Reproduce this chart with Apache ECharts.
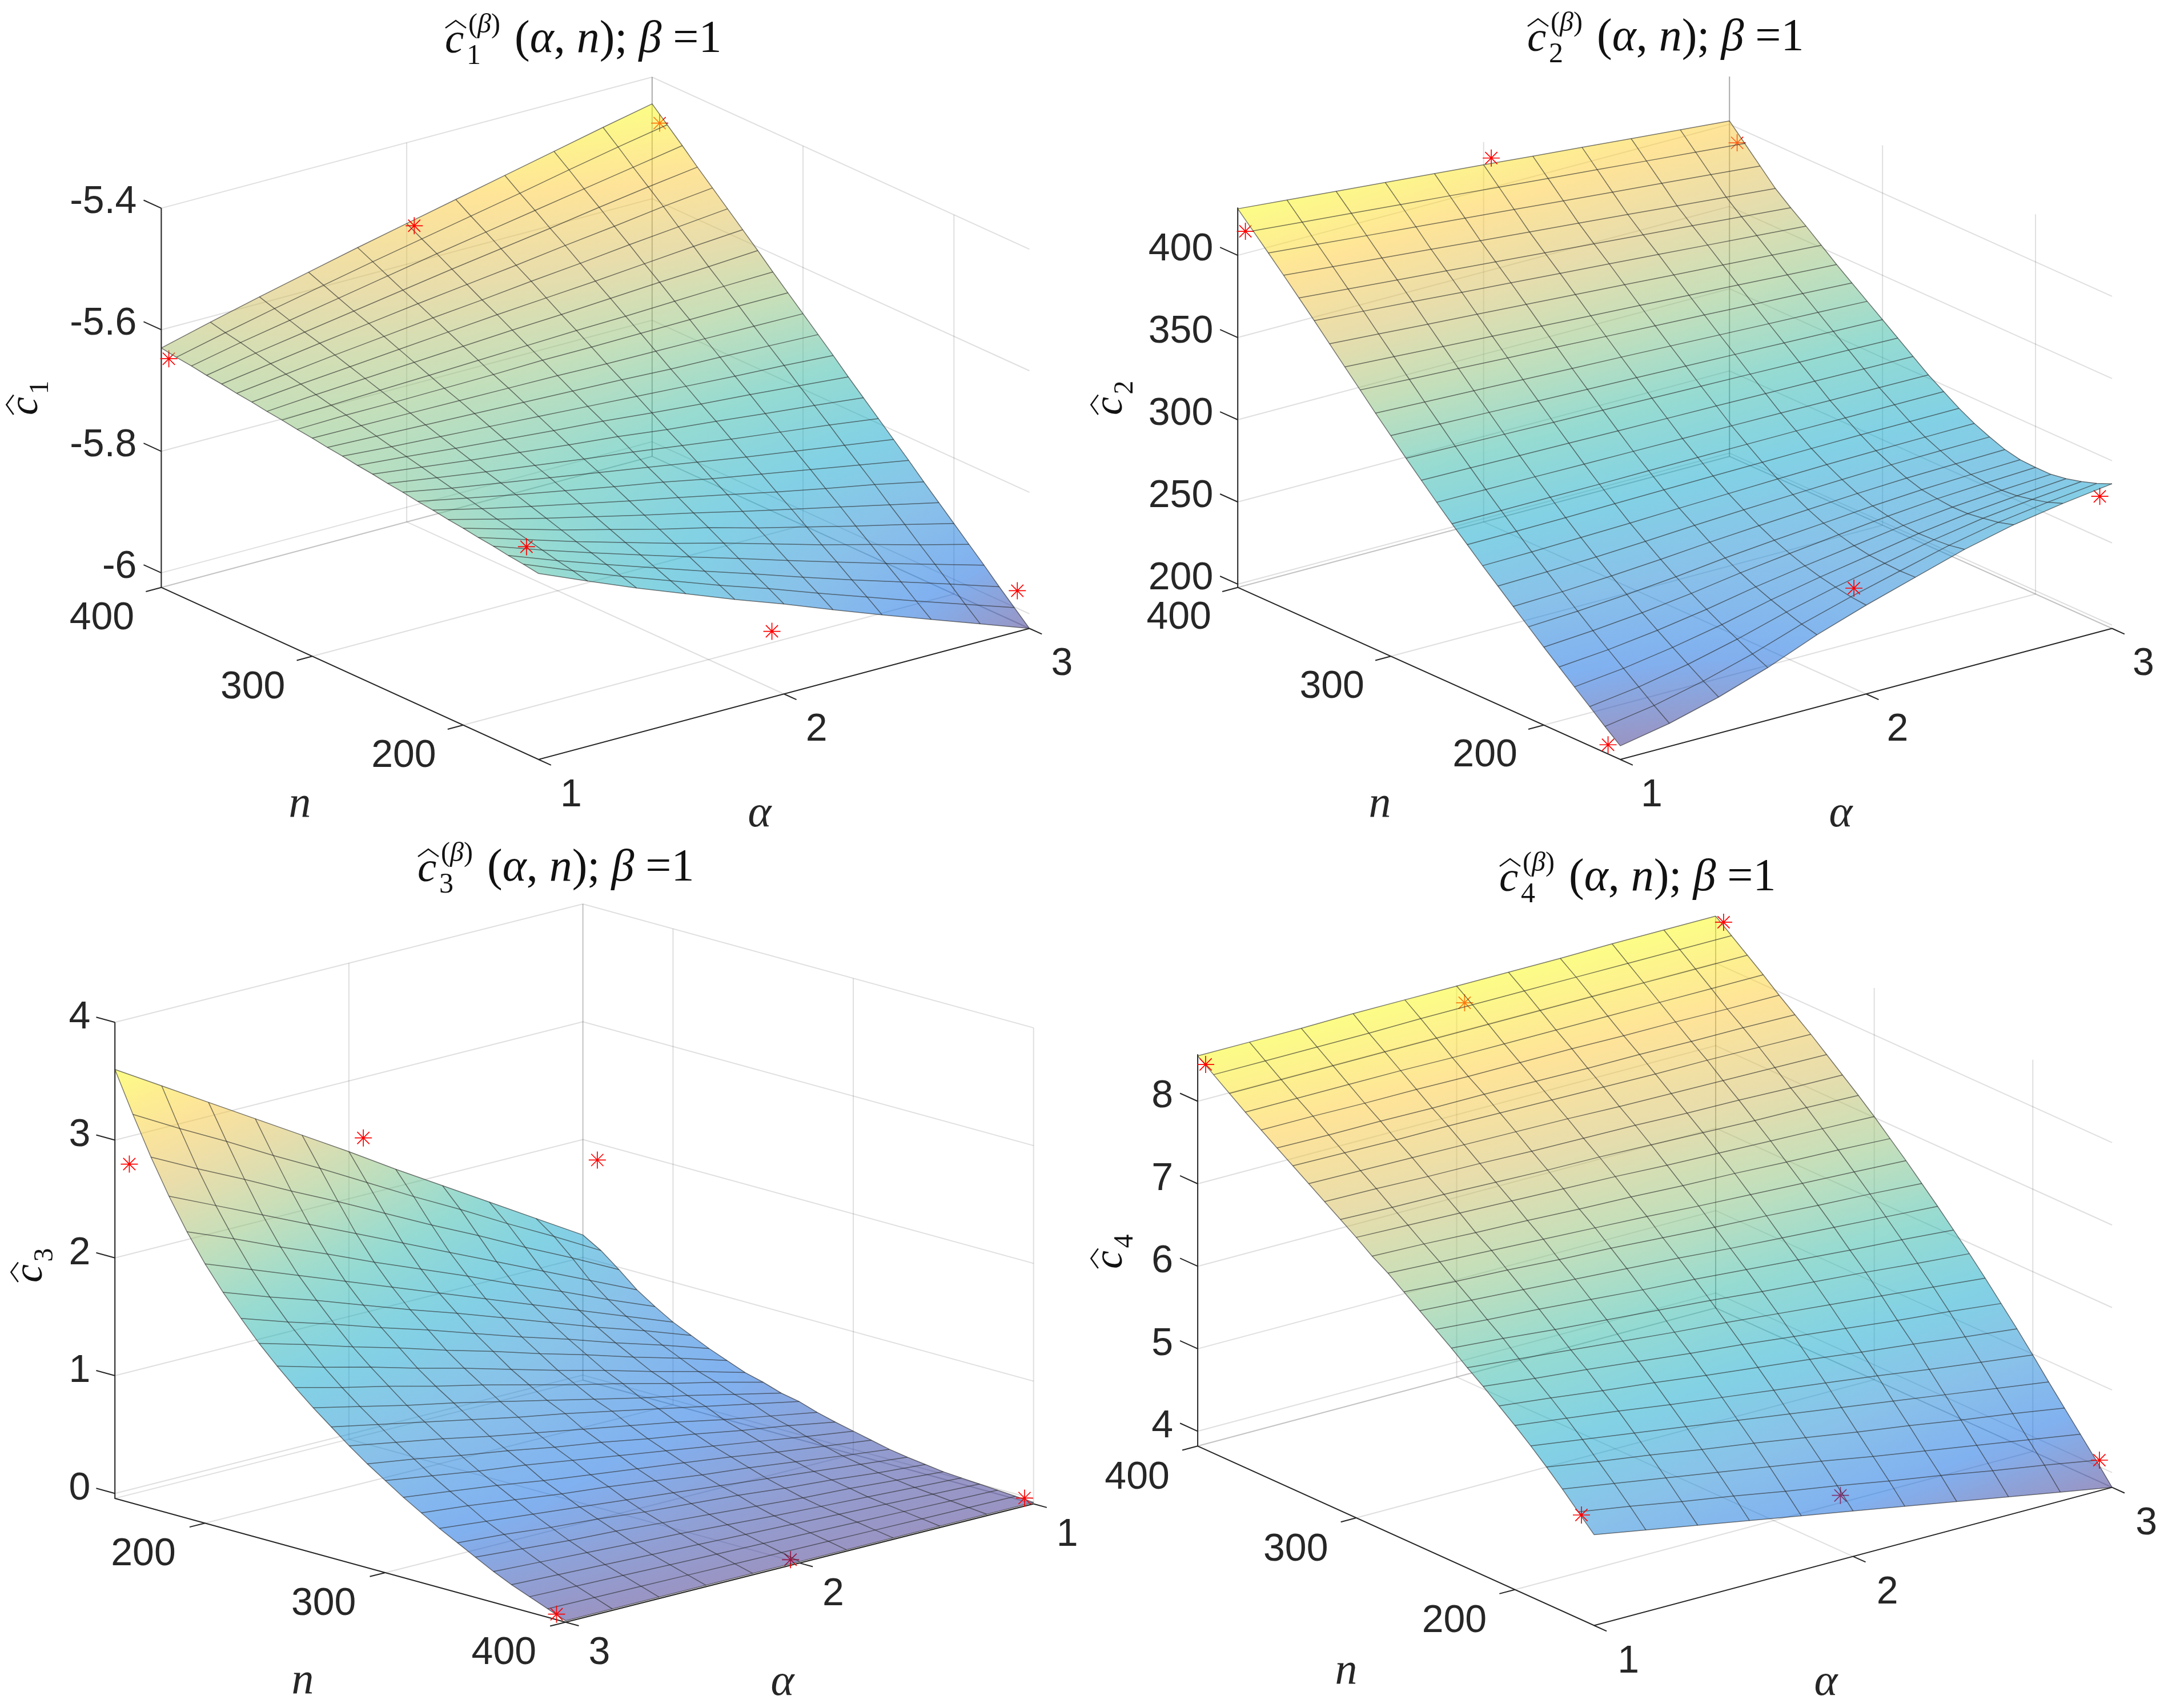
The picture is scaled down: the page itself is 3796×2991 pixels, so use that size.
<!DOCTYPE html>
<html>
<head>
<meta charset="utf-8">
<title>c hat surfaces</title>
<style>
  html, body { margin: 0; padding: 0; background: #fff; }
  #chart { width: 3796px; height: 2991px; }
</style>
<script src="https://cdn.jsdelivr.net/npm/echarts@6/dist/echarts.min.js"></script>
</head>
<body>
<div id="chart"></div>
<script>
var alphaVals = [1, 1.2, 1.4, 1.6, 1.8, 2, 2.2, 2.4, 2.6, 2.8, 3]
var nVals = [150, 160, 170, 180, 190, 200, 210, 220, 230, 240, 250, 260, 270, 280, 290, 300, 310, 320, 330, 340, 350, 360, 370, 380, 390, 400]
var alphaTicks = [1, 2, 3]
var nTicks = [200, 300, 400]
var c1Ticks = [-6, -5.8, -5.6, -5.4]
var c2Ticks = [200, 250, 300, 350, 400]
var c3Ticks = [0, 1, 2, 3, 4]
var c4Ticks = [4, 5, 6, 7, 8]

// one row per n, one column per alpha
var c1Surface = [
  [-5.718,-5.752,-5.785,-5.816,-5.847,-5.876,-5.907,-5.937,-5.966,-5.995,-6.024],
  [-5.714,-5.746,-5.777,-5.806,-5.835,-5.862,-5.891,-5.919,-5.947,-5.974,-6.001],
  [-5.711,-5.741,-5.769,-5.796,-5.823,-5.849,-5.876,-5.902,-5.927,-5.952,-5.978],
  [-5.707,-5.735,-5.761,-5.786,-5.811,-5.835,-5.860,-5.884,-5.908,-5.931,-5.954],
  [-5.704,-5.729,-5.754,-5.777,-5.800,-5.821,-5.844,-5.867,-5.888,-5.910,-5.931],
  [-5.700,-5.723,-5.746,-5.767,-5.788,-5.807,-5.829,-5.849,-5.869,-5.888,-5.908],
  [-5.697,-5.718,-5.738,-5.757,-5.776,-5.794,-5.813,-5.831,-5.849,-5.867,-5.885],
  [-5.693,-5.712,-5.730,-5.747,-5.764,-5.780,-5.797,-5.814,-5.830,-5.845,-5.862],
  [-5.690,-5.706,-5.722,-5.737,-5.752,-5.766,-5.782,-5.796,-5.810,-5.824,-5.838],
  [-5.686,-5.701,-5.714,-5.727,-5.740,-5.753,-5.766,-5.779,-5.791,-5.803,-5.815],
  [-5.683,-5.695,-5.707,-5.718,-5.729,-5.739,-5.750,-5.761,-5.771,-5.781,-5.792],
  [-5.679,-5.689,-5.699,-5.708,-5.717,-5.725,-5.735,-5.743,-5.752,-5.760,-5.769],
  [-5.676,-5.683,-5.691,-5.698,-5.705,-5.711,-5.719,-5.726,-5.732,-5.739,-5.746],
  [-5.672,-5.678,-5.683,-5.688,-5.693,-5.698,-5.703,-5.708,-5.713,-5.717,-5.722],
  [-5.669,-5.672,-5.675,-5.678,-5.681,-5.684,-5.687,-5.691,-5.693,-5.696,-5.699],
  [-5.665,-5.666,-5.667,-5.668,-5.669,-5.670,-5.672,-5.673,-5.674,-5.675,-5.676],
  [-5.662,-5.660,-5.660,-5.659,-5.658,-5.656,-5.656,-5.655,-5.654,-5.653,-5.653],
  [-5.658,-5.655,-5.652,-5.649,-5.646,-5.643,-5.640,-5.638,-5.635,-5.632,-5.630],
  [-5.655,-5.649,-5.644,-5.639,-5.634,-5.629,-5.625,-5.620,-5.615,-5.611,-5.606],
  [-5.651,-5.643,-5.636,-5.629,-5.622,-5.615,-5.609,-5.603,-5.596,-5.589,-5.583],
  [-5.648,-5.638,-5.628,-5.619,-5.610,-5.602,-5.593,-5.585,-5.576,-5.568,-5.560],
  [-5.644,-5.632,-5.620,-5.609,-5.598,-5.588,-5.578,-5.567,-5.557,-5.546,-5.537],
  [-5.641,-5.626,-5.613,-5.600,-5.587,-5.574,-5.562,-5.550,-5.537,-5.525,-5.514],
  [-5.637,-5.620,-5.605,-5.590,-5.575,-5.560,-5.546,-5.532,-5.518,-5.504,-5.490],
  [-5.634,-5.615,-5.597,-5.580,-5.563,-5.547,-5.531,-5.515,-5.498,-5.482,-5.467],
  [-5.630,-5.609,-5.589,-5.570,-5.551,-5.533,-5.515,-5.497,-5.479,-5.461,-5.444]
]
var c2Surface = [
  [206.3,212,220,230,242,252,261,270,277,282,286],
  [213.9,218.7,225.6,234.1,244.3,252.9,260.7,268.3,274.3,278.5,282],
  [221.8,225.8,231.6,238.9,247.4,254.6,261.1,267.5,272.6,276.1,279],
  [229.6,232.9,237.7,243.6,250.7,256.6,261.8,267.1,271.2,274.1,276.5],
  [237.5,240.1,243.9,248.7,254.4,259.2,263.5,267.8,271,273.3,275],
  [245.4,247.5,250.4,254.2,258.7,262.5,266,269.3,271.9,273.6,275],
  [253.6,255.1,257.3,260.1,263.6,266.4,268.8,271.3,273.2,274.5,275.5],
  [261.8,262.8,264.4,266.5,269,271.1,272.9,274.7,276.1,276.8,277.5],
  [270,270.7,271.8,273.3,275,276.5,277.8,279,280,280.6,281],
  [278.2,278.6,279.4,280.2,281.3,282.2,283.1,283.9,284.4,284.7,285],
  [286.8,287,287.3,287.8,288.3,288.7,289.1,289.5,289.8,289.9,290],
  [295.3,295.4,295.5,295.5,295.7,295.8,295.9,296,296,296,296],
  [304.2,304,303.8,303.5,303.3,303.1,302.9,302.7,302.4,302.2,302],
  [313.4,313,312.5,312.1,311.6,311.2,310.8,310.3,309.9,309.4,309],
  [322.6,321.9,321.3,320.6,320,319.3,318.6,318,317.3,316.7,316],
  [332.2,331.3,330.4,329.4,328.5,327.6,326.7,325.8,324.8,323.9,323],
  [341.7,340.5,339.4,338.2,337,335.9,334.7,333.5,332.3,331.2,330],
  [351.6,350.1,348.7,347.2,345.8,344.3,342.8,341.4,339.9,338.5,337],
  [361.4,359.7,357.9,356.2,354.4,352.7,351,349.2,347.5,345.7,344],
  [371.3,369.3,367.3,365.4,363.4,361.4,359.4,357.4,355.5,353.5,351.5],
  [381.2,379,376.8,374.5,372.3,370.1,367.9,365.7,363.4,361.2,359],
  [390.8,388.3,385.8,383.4,380.9,378.4,375.9,373.4,371,368.5,366],
  [400.4,397.7,395,392.3,389.6,386.9,384.3,381.6,378.9,376.2,373.5],
  [409.8,407.1,404.4,401.8,399.1,396.4,393.7,391,388.4,385.7,383],
  [419.1,416.4,413.8,411.1,408.5,405.8,403.1,400.5,397.8,395.2,392.5],
  [428.3,425.7,423,420.4,417.8,415.2,412.5,409.9,407.2,404.6,402]
]
var c3Surface = [
  [1.19,1.43,1.67,1.91,2.15,2.40,2.64,2.88,3.12,3.36,3.60],
  [1.10,1.32,1.53,1.75,1.96,2.18,2.40,2.61,2.83,3.04,3.26],
  [.98,1.18,1.37,1.57,1.76,1.96,2.16,2.35,2.55,2.74,2.94],
  [.85,1.03,1.21,1.39,1.57,1.75,1.93,2.11,2.29,2.47,2.65],
  [.75,.91,1.08,1.24,1.41,1.57,1.73,1.90,2.06,2.23,2.39],
  [.66,.81,.96,1.11,1.26,1.41,1.56,1.71,1.86,2.01,2.16],
  [.59,.73,.86,1.00,1.14,1.28,1.41,1.55,1.69,1.82,1.96],
  [.52,.65,.77,.90,1.02,1.15,1.28,1.40,1.53,1.65,1.78],
  [.46,.58,.69,.81,.92,1.04,1.15,1.27,1.38,1.50,1.61],
  [.40,.51,.61,.72,.82,.93,1.04,1.14,1.25,1.35,1.46],
  [.36,.46,.55,.65,.74,.84,.94,1.03,1.13,1.22,1.32],
  [.31,.40,.49,.57,.66,.75,.84,.93,1.01,1.10,1.19],
  [.28,.36,.44,.52,.60,.68,.75,.83,.91,.99,1.07],
  [.23,.30,.37,.45,.52,.59,.66,.73,.81,.88,.95],
  [.19,.26,.32,.39,.45,.52,.58,.65,.71,.78,.84],
  [.155,.21,.27,.33,.39,.45,.51,.57,.62,.68,.74],
  [.12,.17,.22,.28,.33,.38,.43,.48,.54,.59,.64],
  [.085,.13,.18,.23,.27,.32,.37,.41,.46,.51,.55],
  [.06,.10,.14,.18,.22,.26,.30,.34,.38,.42,.46],
  [.04,.07,.11,.14,.18,.21,.24,.28,.31,.35,.38],
  [.02,.05,.08,.10,.13,.16,.19,.22,.24,.27,.30],
  [.01,.03,.05,.07,.09,.115,.14,.16,.18,.20,.22],
  [0,.015,.03,.045,.06,.075,.09,.105,.12,.135,.15],
  [-.01,0,.01,.02,.03,.04,.05,.06,.07,.08,.09],
  [-.02,-.015,-.01,-.005,0,.005,.01,.015,.02,.025,.03],
  [-.03,-.03,-.03,-.03,-.03,-.03,-.03,-.03,-.03,-.03,-.03]
]
var c4Surface = [
  [4.92,4.81,4.70,4.59,4.48,4.37,4.26,4.15,4.04,3.93,3.82],
  [5.11,5.01,4.90,4.80,4.69,4.59,4.48,4.38,4.27,4.17,4.06],
  [5.30,5.20,5.10,5.00,4.90,4.80,4.69,4.59,4.49,4.39,4.29],
  [5.48,5.38,5.29,5.19,5.10,5.00,4.90,4.81,4.71,4.62,4.52],
  [5.65,5.56,5.47,5.38,5.29,5.20,5.11,5.02,4.93,4.84,4.75],
  [5.81,5.73,5.65,5.56,5.48,5.40,5.32,5.24,5.15,5.07,4.99],
  [5.96,5.89,5.81,5.74,5.66,5.59,5.52,5.44,5.37,5.29,5.22],
  [6.11,6.04,5.98,5.91,5.84,5.78,5.71,5.64,5.57,5.51,5.44],
  [6.25,6.19,6.13,6.07,6.01,5.96,5.90,5.84,5.78,5.72,5.66],
  [6.40,6.35,6.29,6.24,6.19,6.14,6.08,6.03,5.98,5.92,5.87],
  [6.54,6.49,6.45,6.40,6.35,6.31,6.26,6.21,6.16,6.12,6.07],
  [6.68,6.64,6.60,6.56,6.52,6.48,6.43,6.39,6.35,6.31,6.27],
  [6.82,6.78,6.75,6.71,6.68,6.64,6.60,6.57,6.53,6.50,6.46],
  [6.96,6.93,6.90,6.87,6.84,6.81,6.77,6.74,6.71,6.68,6.65],
  [7.08,7.06,7.03,7.01,6.98,6.96,6.93,6.91,6.88,6.86,6.83],
  [7.22,7.20,7.18,7.16,7.14,7.12,7.09,7.07,7.05,7.03,7.01],
  [7.35,7.33,7.32,7.30,7.28,7.27,7.25,7.23,7.21,7.20,7.18],
  [7.48,7.47,7.45,7.44,7.42,7.41,7.40,7.38,7.37,7.35,7.34],
  [7.61,7.60,7.59,7.58,7.57,7.56,7.54,7.53,7.52,7.51,7.50],
  [7.74,7.73,7.72,7.72,7.71,7.70,7.69,7.68,7.68,7.67,7.66],
  [7.87,7.86,7.86,7.85,7.85,7.84,7.83,7.83,7.82,7.82,7.81],
  [8.00,8.00,7.99,7.99,7.98,7.98,7.98,7.97,7.97,7.96,7.96],
  [8.13,8.13,8.13,8.13,8.12,8.12,8.12,8.12,8.12,8.12,8.12],
  [8.27,8.27,8.27,8.27,8.27,8.27,8.27,8.27,8.27,8.27,8.27],
  [8.41,8.41,8.41,8.41,8.42,8.42,8.42,8.42,8.42,8.42,8.42],
  [8.55,8.55,8.55,8.56,8.56,8.56,8.56,8.56,8.57,8.57,8.57]
]

// the red stars: alpha 1, 2, 3 at a high and a low n
var markerAlpha = [1, 2, 3]
var markerN = [395, 158]
var c1Markers = [[-5.642, -5.531, -5.47], [-5.683, -5.93, -5.971]]
var c2Markers = [[416.7, 421.4, 390.8], [203.6, 259, 275]]
var c3Markers = [[-0.014, -0.035, 0.005], [1.86, 2.55, 2.83]]
var c4Markers = [[8.49, 8.40, 8.54], [5.09, 4.49, 4.08]]

var parulaStops = [[53, 42, 135], [3, 99, 225], [20, 132, 212], [6, 164, 202], [46, 183, 164], [135, 191, 119], [209, 187, 89], [254, 200, 50], [249, 251, 14]]
var starPath = 'path://M12 0V24M0 12H24M3.5 3.5L20.5 20.5M3.5 20.5L20.5 3.5'
var sansFont = 'Liberation Sans'
var serifFont = 'Liberation Serif'

var panels = [
  {
    sub: '1', surface: c1Surface, ticks: c1Ticks, markers: c1Markers, zLim: [-6.024, -5.4],
    frontAlpha: 1, backAlpha: 3, frontN: 150, backN: 400,
    left: [282.4, 1028.7], front: [943, 1330], right: [1802.4, 1100.5], topY: 364.6,
    rect: [0, 0, 1898, 1495],
    titleAt: [779, 94], nLabel: [525, 1410], alphaLabel: [1330, 1426], zLabel: [67, 727],
    zDy: -10, nOff: [-104, 55], aOff: [57, 63]
  },
  {
    sub: '2', surface: c2Surface, ticks: c2Ticks, markers: c2Markers, zLim: [198, 429],
    frontAlpha: 1, backAlpha: 3, frontN: 150, backN: 400,
    left: [2167.2, 1028.7], front: [2837, 1330], right: [3698, 1100.5], topY: 363.6,
    rect: [1898, 0, 1898, 1495],
    titleAt: [2674, 91], nLabel: [2416, 1410], alphaLabel: [3223, 1426], zLabel: [1966, 727],
    zDy: -10, nOff: [-103, 54], aOff: [55, 63]
  },
  {
    sub: '3', surface: c3Surface, ticks: c3Ticks, markers: c3Markers, zLim: [-0.042, 4],
    frontAlpha: 3, backAlpha: 1, frontN: 400, backN: 150,
    left: [201.2, 2623.9], front: [990.3, 2840.7], right: [1809.7, 2633.5], topY: 1790.3,
    rect: [0, 1495, 1898, 1496],
    titleAt: [731, 1545], nLabel: [530, 2945], alphaLabel: [1370, 2947], zLabel: [75, 2246],
    zDy: -8, nOff: [-108, 55], aOff: [59, 55]
  },
  {
    sub: '4', surface: c4Surface, ticks: c4Ticks, markers: c4Markers, zLim: [3.82, 8.57],
    frontAlpha: 1, backAlpha: 3, frontN: 150, backN: 400,
    left: [2097.1, 2532.3], front: [2791.2, 2846.5], right: [3698.1, 2604.6], topY: 1846.2,
    rect: [1898, 1495, 1898, 1496],
    titleAt: [2625, 1562], nLabel: [2357, 2928], alphaLabel: [3197, 2947], zLabel: [1966, 2222],
    zDy: -8, nOff: [-106, 56], aOff: [60, 64]
  }
]

// orthographic view: a point in data space to axis units of the panel's grid
function project(p, a, n, z) {
  var t = (a - p.frontAlpha) / (p.backAlpha - p.frontAlpha)
  var s = (n - p.backN) / (p.frontN - p.backN)
  var h = (z - p.zLim[0]) / (p.zLim[1] - p.zLim[0])
  return [
    p.left[0] + s * (p.front[0] - p.left[0]) + t * (p.right[0] - p.front[0]),
    p.left[1] + s * (p.front[1] - p.left[1]) + t * (p.right[1] - p.front[1]) + h * (p.topY - p.left[1])
  ]
}

function parulaColor(t) {
  var v = Math.max(0, Math.min(1, t)) * 8
  var k = Math.min(7, Math.floor(v))
  var f = v - k
  var a = parulaStops[k]
  var b = parulaStops[k + 1]
  return 'rgba(' + Math.round(a[0] + (b[0] - a[0]) * f) + ',' + Math.round(a[1] + (b[1] - a[1]) * f) + ',' + Math.round(a[2] + (b[2] - a[2]) * f) + ',0.5)'
}

function surfaceRange(table) {
  var lo = Infinity
  var hi = -Infinity
  table.forEach(function (row) {
    row.forEach(function (v) {
      lo = Math.min(lo, v)
      hi = Math.max(hi, v)
    })
  })
  return [lo, hi]
}

// a linear gradient along the steepest direction of the quad
function quadFill(pts, zs, range) {
  function col(z) { return parulaColor((z - range[0]) / (range[1] - range[0])) }
  var ux = (pts[1][0] + pts[2][0] - pts[0][0] - pts[3][0]) / 2
  var uy = (pts[1][1] + pts[2][1] - pts[0][1] - pts[3][1]) / 2
  var vx = (pts[3][0] + pts[2][0] - pts[0][0] - pts[1][0]) / 2
  var vy = (pts[3][1] + pts[2][1] - pts[0][1] - pts[1][1]) / 2
  var du = (zs[1] + zs[2] - zs[0] - zs[3]) / 2
  var dv = (zs[3] + zs[2] - zs[0] - zs[1]) / 2
  var det = ux * vy - uy * vx
  var zc = (zs[0] + zs[1] + zs[2] + zs[3]) / 4
  var lo = Math.min.apply(null, zs)
  var hi = Math.max.apply(null, zs)
  if (Math.abs(det) < 1e-6 || hi - lo < 1e-9) return col(zc)
  var gx = (du * vy - uy * dv) / det
  var gy = (ux * dv - vx * du) / det
  var mag = gx * gx + gy * gy
  if (mag < 1e-18) return col(zc)
  var cx = (pts[0][0] + pts[1][0] + pts[2][0] + pts[3][0]) / 4
  var cy = (pts[0][1] + pts[1][1] + pts[2][1] + pts[3][1]) / 4
  return new echarts.graphic.LinearGradient(
    cx + gx * (lo - zc) / mag, cy + gy * (lo - zc) / mag,
    cx + gx * (hi - zc) / mag, cy + gy * (hi - zc) / mag,
    [
      { offset: 0, color: col(lo) },
      { offset: 0.5, color: col((lo + hi) / 2) },
      { offset: 1, color: col(hi) }
    ],
    true
  )
}

function polyline(points, color, width) {
  return { type: 'polyline', silent: true, shape: { points: points }, style: { stroke: color, lineWidth: width, fill: 'none' } }
}

function textEl(str, x, y, font, size, align, italic) {
  return {
    type: 'text', silent: true,
    style: { text: str, x: x, y: y, fontFamily: font, fontSize: size, fontStyle: italic ? 'italic' : 'normal', fill: '#262626', align: align, verticalAlign: 'middle' }
  }
}

// hat c with sub and superscript; origin sits on the baseline at the left of the c
function hatC(sub, size, x, y, rotation) {
  var k = size / 75
  var kids = [
    {
      type: 'text', silent: true,
      style: { text: 'c', x: 0, y: -22 * k, fontFamily: serifFont, fontStyle: 'italic', fontSize: size, fill: '#111', align: 'left', verticalAlign: 'middle' }
    },
    {
      type: 'text', silent: true,
      style: { text: sub, x: 38 * k, y: 5 * k, fontFamily: serifFont, fontSize: 50 * k, fill: '#111', align: 'left', verticalAlign: 'middle' }
    },
    polyline([[1 * k, -45 * k], [19 * k, -58 * k], [37 * k, -45 * k]], '#111', 2.5)
  ]
  return { type: 'group', x: x, y: y, rotation: rotation, children: kids }
}

function titleEl(p) {
  var x = p.titleAt[0]
  var y = p.titleAt[1]
  var group = hatC(p.sub, 75, x, y, 0)
  var rich = {
    r: { fontFamily: serifFont, fontSize: 80, fill: '#111' },
    i: { fontFamily: serifFont, fontSize: 80, fontStyle: 'italic', fill: '#111' },
    s: { fontFamily: serifFont, fontSize: 48, fill: '#111' },
    t: { fontFamily: serifFont, fontSize: 48, fontStyle: 'italic', fill: '#111' }
  }
  group.children.push({
    type: 'text', silent: true,
    style: { text: '{s|(}{t|β}{s|)}', rich: rich, x: 41, y: -50, align: 'left', verticalAlign: 'middle' }
  })
  group.children.push({
    type: 'text', silent: true,
    style: { text: '{r|(}{i|α}{r|, }{i|n}{r|); }{i|β}{r| =1}', rich: rich, x: 122, y: -24, align: 'left', verticalAlign: 'middle' }
  })
  return group
}

function frameRenderer(p) {
  return function (params, api) {
    function pt(a, n, z) { return api.coord(project(p, a, n, z)) }
    var zMin = p.zLim[0]
    var zMax = p.zLim[1]
    var gridColor = 'rgba(38,38,38,0.15)'
    var axisColor = '#262626'
    var kids = []

    alphaTicks.forEach(function (a) {
      kids.push(polyline([pt(a, p.frontN, zMin), pt(a, p.backN, zMin), pt(a, p.backN, zMax)], gridColor, 2))
    })
    nTicks.forEach(function (n) {
      kids.push(polyline([pt(p.frontAlpha, n, zMin), pt(p.backAlpha, n, zMin), pt(p.backAlpha, n, zMax)], gridColor, 2))
    })
    kids.push(polyline([pt(p.frontAlpha, p.backN, zMin), pt(p.backAlpha, p.backN, zMin), pt(p.backAlpha, p.frontN, zMin)], gridColor, 2))
    kids.push(polyline([pt(p.backAlpha, p.backN, zMin), pt(p.backAlpha, p.backN, zMax)], gridColor, 2))
    p.ticks.forEach(function (z) {
      kids.push(polyline([pt(p.frontAlpha, p.backN, z), pt(p.backAlpha, p.backN, z), pt(p.backAlpha, p.frontN, z)], gridColor, 2))
    })

    // directions for the outward tick marks
    var nDx = p.front[0] - p.left[0]
    var nDy = p.front[1] - p.left[1]
    var nLen = Math.sqrt(nDx * nDx + nDy * nDy)
    var aDx = p.right[0] - p.front[0]
    var aDy = p.right[1] - p.front[1]
    var aLen = Math.sqrt(aDx * aDx + aDy * aDy)

    kids.push(polyline([pt(p.frontAlpha, p.backN, zMax), pt(p.frontAlpha, p.backN, zMin), pt(p.frontAlpha, p.frontN, zMin), pt(p.backAlpha, p.frontN, zMin)], axisColor, 2))

    p.ticks.forEach(function (z) {
      var q = pt(p.frontAlpha, p.backN, z)
      kids.push(polyline([q, [q[0] - nDx / nLen * 34, q[1] - nDy / nLen * 34]], axisColor, 2))
      kids.push(textEl(String(z), p.left[0] - 43, q[1] + p.zDy, sansFont, 68, 'right'))
    })
    nTicks.forEach(function (n) {
      var q = pt(p.frontAlpha, n, zMin)
      kids.push(polyline([q, [q[0] - aDx / aLen * 28, q[1] - aDy / aLen * 28]], axisColor, 2))
      kids.push(textEl(String(n), q[0] + p.nOff[0], q[1] + p.nOff[1], sansFont, 68, 'center'))
    })
    alphaTicks.forEach(function (a) {
      var q = pt(a, p.frontN, zMin)
      kids.push(polyline([q, [q[0] + nDx / nLen * 24, q[1] + nDy / nLen * 24]], axisColor, 2))
      kids.push(textEl(String(a), q[0] + p.aOff[0], q[1] + p.aOff[1], sansFont, 68, 'center'))
    })

    kids.push(textEl('n', p.nLabel[0], p.nLabel[1], serifFont, 78, 'center', true))
    kids.push(textEl('α', p.alphaLabel[0], p.alphaLabel[1], serifFont, 78, 'center', true))
    kids.push(hatC(p.sub, 72, p.zLabel[0], p.zLabel[1], Math.PI / 2))
    kids.push(titleEl(p))
    return { type: 'group', children: kids }
  }
}

function quadRenderer(p, range) {
  return function (params, api) {
    var i = api.value(2)
    var j = api.value(3)
    var cells = [[i, j], [i, j + 1], [i + 1, j + 1], [i + 1, j]]
    var pts = cells.map(function (c) {
      return api.coord(project(p, alphaVals[c[1]], nVals[c[0]], p.surface[c[0]][c[1]]))
    })
    var zs = cells.map(function (c) { return p.surface[c[0]][c[1]] })
    return { type: 'polygon', silent: true, shape: { points: pts }, style: { fill: quadFill(pts, zs, range) } }
  }
}

function meshRenderer(p) {
  return function (params, api) {
    var kids = []
    var color = 'rgba(35,35,35,0.6)'
    nVals.forEach(function (n, i) {
      kids.push(polyline(alphaVals.map(function (a, j) { return api.coord(project(p, a, n, p.surface[i][j])) }), color, 1.5))
    })
    alphaVals.forEach(function (a, j) {
      kids.push(polyline(nVals.map(function (n, i) { return api.coord(project(p, a, n, p.surface[i][j])) }), color, 1.5))
    })
    return { type: 'group', children: kids }
  }
}

function surfaceAt(table, a, n) {
  var jf = (a - alphaVals[0]) / (alphaVals[1] - alphaVals[0])
  var f = (n - nVals[0]) / (nVals[1] - nVals[0])
  var j = Math.min(Math.floor(jf), alphaVals.length - 2)
  var i = Math.min(Math.floor(f), nVals.length - 2)
  var u = jf - j
  var v = f - i
  return (1 - v) * ((1 - u) * table[i][j] + u * table[i][j + 1]) + v * ((1 - u) * table[i + 1][j] + u * table[i + 1][j + 1])
}

function starSeries(k, data, z) {
  return {
    type: 'scatter', xAxisIndex: k, yAxisIndex: k, z: z, silent: true, data: data,
    symbol: starPath, symbolSize: 30, symbolKeepAspect: true, clip: false,
    itemStyle: { color: 'transparent', borderColor: '#ff0000', borderWidth: 1.7, opacity: 1 }
  }
}

var grids = []
var xAxes = []
var yAxes = []
var seriesList = []

panels.forEach(function (p, k) {
  var r = p.rect
  grids.push({ left: r[0], top: r[1], width: r[2], height: r[3], show: false })
  xAxes.push({ type: 'value', gridIndex: k, show: false, min: r[0], max: r[0] + r[2] })
  yAxes.push({ type: 'value', gridIndex: k, show: false, min: r[1], max: r[1] + r[3], inverse: true })

  var range = surfaceRange(p.surface)
  var centre = [[r[0] + r[2] / 2, r[1] + r[3] / 2]]
  var quads = []
  for (var i = 0; i < nVals.length - 1; i++) {
    for (var j = 0; j < alphaVals.length - 1; j++) {
      quads.push(project(p, alphaVals[j], nVals[i], p.surface[i][j]).concat([i, j]))
    }
  }

  // a star under the sheet shows through it, one above it stays pure red
  var under = []
  var over = []
  markerN.forEach(function (n, row) {
    markerAlpha.forEach(function (a, col) {
      var z = p.markers[row][col]
      var target = z < surfaceAt(p.surface, a, n) ? under : over
      target.push(project(p, a, n, z))
    })
  })

  seriesList.push({ type: 'custom', xAxisIndex: k, yAxisIndex: k, z: 1, silent: true, clip: false, data: centre, renderItem: frameRenderer(p) })
  seriesList.push(starSeries(k, under, 2))
  seriesList.push({ type: 'custom', xAxisIndex: k, yAxisIndex: k, z: 3, silent: true, clip: false, data: quads, renderItem: quadRenderer(p, range) })
  seriesList.push({ type: 'custom', xAxisIndex: k, yAxisIndex: k, z: 4, silent: true, clip: false, data: centre, renderItem: meshRenderer(p) })
  seriesList.push(starSeries(k, over, 5))
})

var myChart = echarts.init(document.getElementById('chart'))
myChart.setOption({
  animation: false,
  backgroundColor: '#ffffff',
  grid: grids,
  xAxis: xAxes,
  yAxis: yAxes,
  series: seriesList
})
</script>
</body>
</html>
